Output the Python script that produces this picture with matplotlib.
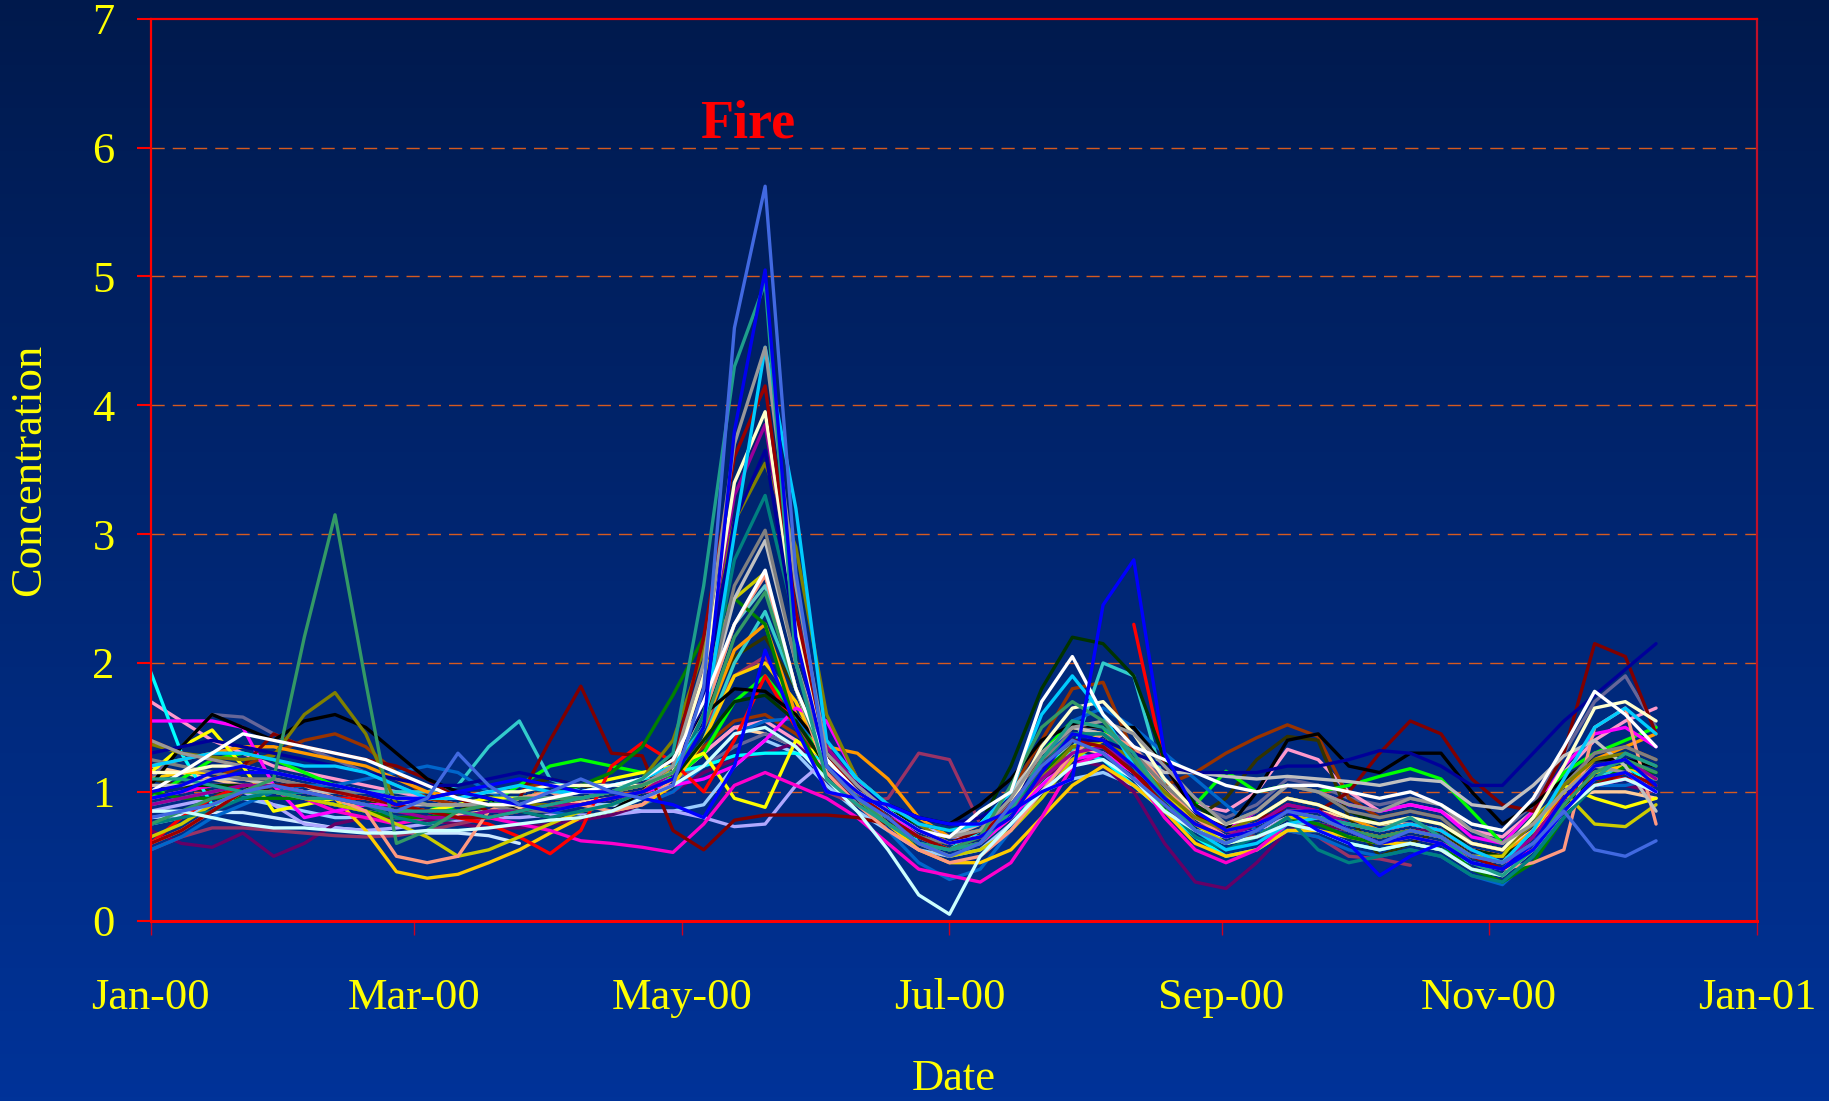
import numpy as np
import pandas as pd
import matplotlib
matplotlib.use("Agg")
import matplotlib.pyplot as plt
import matplotlib.dates as mdates

plt.rcParams["font.family"] = ["Liberation Serif", "DejaVu Serif"]

nan = np.nan

# weekly samples, 1 Jan 2000 .. 9 Dec 2000 (50 points)
dates = pd.date_range("2000-01-01", periods=50, freq="7D")

# one list per monitoring site
site_royalblue = [0.80, 0.85, 0.90, 1.00, 1.05, 1.00, 0.95, 0.90, 0.85, 0.95,
                  1.30, 1.05, 0.90, 1.00, 1.10, 1.00, 0.95, 1.05, 1.80, 4.60,
                  5.70, 2.70, 1.20, 0.95, 0.80, 0.60, 0.50, 0.60, 0.90, 1.20,
                  1.40, 1.30, 1.10, 0.90, 0.70, 0.60, 0.70, 0.85, 0.80, 0.70,
                  0.60, 0.70, 0.65, 0.50, 0.45, 0.60, 0.85, 0.55, 0.50, 0.62]
site_blue = [1.00, 1.05, 1.15, 1.20, 1.15, 1.10, 1.05, 1.00, 0.90, 0.95,
             1.00, 0.95, 0.90, 0.85, 0.90, 0.95, 1.00, 1.10, 1.50, 3.80,
             5.05, 2.20, 1.20, 1.00, 0.85, 0.70, 0.60, 0.65, 0.80, 1.15,
             1.45, 1.40, 1.20, 0.95, 0.75, 0.65, 0.70, 0.85, 0.85, 0.70,
             0.60, 0.65, 0.60, 0.45, 0.40, 0.60, 0.95, 1.20, 1.25, 1.05]
site_teal_green = [1.10, 1.10, 1.05, 1.00, 1.00, 0.95, 0.95, 0.90, 0.85, 0.85,
                   0.85, 0.80, 0.85, 0.90, 0.95, 1.00, 1.10, 1.30, 2.60, 4.30,
                   4.95, 2.00, 1.10, 0.90, 0.75, 0.60, 0.55, 0.60, 0.85, 1.25,
                   1.55, 1.50, 1.30, 0.95, 0.70, 0.60, 0.70, 0.85, 0.80, 0.75,
                   0.70, 0.80, 0.65, 0.45, 0.35, 0.55, 0.85, 1.10, 1.30, 1.20]
site_gray = [1.40, 1.30, 1.25, 1.20, 1.15, 1.10, 1.05, 1.00, 0.95, 0.90,
             0.90, 0.90, 0.95, 0.95, 0.95, 1.00, 1.05, 1.20, 2.00, 3.70,
             4.45, 2.60, 1.30, 1.05, 0.85, 0.70, 0.65, 0.70, 0.95, 1.30,
             1.50, 1.55, 1.45, 1.20, 0.95, 0.75, 0.85, 1.05, 1.00, 0.90,
             0.85, 0.95, 0.90, 0.70, 0.60, 0.75, 1.00, 1.20, 1.15, 1.00]
site_skyblue = [1.20, 1.25, 1.30, 1.30, 1.25, 1.20, 1.20, 1.15, 1.05, 0.95,
                0.95, 1.00, 1.05, 1.00, 1.00, 1.05, 1.10, 1.20, 1.50, 3.00,
                4.45, 3.20, 1.40, 1.10, 0.90, 0.75, 0.70, 0.75, 1.00, 1.60,
                1.90, 1.60, 1.20, 0.95, 0.70, 0.55, 0.60, 0.75, 0.80, 0.75,
                0.70, 0.75, 0.70, 0.55, 0.45, 0.70, 1.10, 1.50, 1.65, 1.45]
site_darkred = [0.60, 0.70, 0.85, 1.00, 1.05, 1.05, 1.00, 0.95, 0.90, 0.85,
                0.80, 0.80, 0.85, 0.90, 0.95, 1.00, 1.05, 1.20, 2.20, 3.60,
                4.15, 2.40, 1.30, 1.00, 0.80, 0.65, 0.55, 0.65, 0.90, 1.20,
                1.40, 1.35, 1.15, 0.90, 0.70, 0.60, 0.70, 0.85, 0.80, 0.70,
                0.65, 0.70, 0.65, 0.50, 0.40, 0.55, 0.85, 1.05, 1.15, 1.05]
site_cream = [1.15, 1.15, 1.20, 1.20, 1.15, 1.10, 1.05, 1.00, 0.95, 0.95,
              0.95, 1.00, 1.00, 1.05, 1.05, 1.05, 1.05, 1.15, 1.90, 3.40,
              3.95, 2.30, 1.25, 1.00, 0.85, 0.70, 0.60, 0.65, 0.90, 1.35,
              1.65, 1.70, 1.45, 1.10, 0.85, 0.75, 0.80, 0.95, 0.90, 0.80,
              0.75, 0.80, 0.75, 0.60, 0.55, 0.80, 1.20, 1.65, 1.70, 1.55]
site_purple = [0.90, 0.95, 1.00, 1.05, 1.05, 1.00, 0.95, 0.90, 0.85, 0.80,
               0.80, 0.85, 0.85, 0.90, 0.90, 0.95, 1.00, 1.15, 1.90, 3.30,
               3.85, 2.40, 1.35, 1.05, 0.85, 0.70, 0.60, 0.65, 0.85, 1.10,
               1.30, 1.35, 1.20, 0.95, 0.75, 0.65, 0.75, 0.90, 0.85, 0.75,
               0.70, 0.75, 0.70, 0.55, 0.45, 0.65, 0.95, 1.20, 1.25, 1.10]
site_navy = [1.30, 1.35, 1.40, 1.35, 1.30, 1.25, 1.20, 1.15, 1.10, 1.05,
             1.05, 1.10, 1.15, 1.10, 1.05, 1.05, 1.05, 1.15, 1.70, 3.10,
             3.65, 2.20, 1.30, 1.05, 0.90, 0.80, 0.75, 0.80, 0.95, 1.20,
             1.40, 1.40, 1.30, 1.20, 1.15, 1.15, 1.15, 1.20, 1.20, 1.25,
             1.32, 1.30, 1.20, 1.05, 1.05, 1.30, 1.55, 1.75, 1.95, 2.15]
site_olive = [1.37, 1.30, 1.27, 1.25, 1.28, 1.60, 1.77, 1.45, 0.90, 0.85,
              0.85, 0.90, 0.90, 0.90, 0.95, 1.00, 1.10, 1.40, 2.10, 3.10,
              3.55, 2.90, 1.60, 1.10, 0.90, 0.75, 0.60, 0.65, 0.85, 1.10,
              1.35, 1.40, 1.25, 1.00, 0.80, 0.70, 0.80, 0.95, 0.90, 0.80,
              0.75, 0.80, 0.75, 0.60, 0.55, 0.75, 1.05, 1.25, 1.30, 1.20]
site_teal = [0.75, 0.80, 0.85, 0.95, 1.00, 1.00, 0.95, 0.90, 0.80, 0.75,
             0.80, 0.85, 0.85, 0.80, 0.85, 0.90, 1.00, 1.10, 1.60, 2.80,
             3.30, 2.30, 1.30, 1.00, 0.80, 0.65, 0.55, 0.60, 0.85, 1.20,
             1.45, 1.45, 1.25, 0.90, 0.65, 0.55, 0.65, 0.80, 0.55, 0.45,
             0.50, 0.55, 0.50, 0.35, 0.30, 0.50, 0.80, 1.05, 1.15, 1.05]
site_midgray = [1.25, 1.20, 1.15, 1.10, 1.10, 1.05, 1.00, 1.00, 0.95, 0.90,
                0.90, 0.90, 0.85, 0.85, 0.90, 0.95, 1.00, 1.10, 1.60, 2.60,
                3.03, 2.00, 1.20, 0.95, 0.80, 0.65, 0.60, 0.65, 0.90, 1.25,
                1.45, 1.45, 1.30, 1.05, 0.85, 0.75, 0.85, 1.05, 1.00, 0.85,
                0.80, 0.85, 0.80, 0.60, 0.55, 0.75, 1.05, 1.30, 1.35, 1.25]
site_silver = [1.05, 1.05, 1.10, 1.10, 1.05, 1.00, 1.00, 0.95, 0.90, 0.90,
               0.90, 0.90, 0.95, 0.95, 1.00, 1.00, 1.05, 1.15, 1.60, 2.50,
               2.95, 2.00, 1.25, 1.00, 0.85, 0.70, 0.65, 0.75, 1.00, 1.30,
               1.50, 1.45, 1.30, 1.15, 1.15, 1.12, 1.10, 1.12, 1.10, 1.08,
               1.05, 1.10, 1.08, 0.90, 0.87, 1.05, 1.28, 1.40, 1.20, 0.85]
site_white = [1.00, 1.15, 1.30, 1.45, 1.40, 1.35, 1.30, 1.25, 1.15, 1.05,
              0.95, 0.90, 0.90, 0.95, 1.00, 1.05, 1.10, 1.25, 1.70, 2.30,
              2.72, 1.80, 1.25, 1.00, 0.85, 0.70, 0.65, 0.85, 1.00, 1.70,
              2.05, 1.60, 1.35, 1.25, 1.15, 1.05, 1.00, 1.05, 1.05, 1.00,
              0.95, 1.00, 0.90, 0.75, 0.70, 0.95, 1.35, 1.78, 1.60, 1.35]
site_salmon = [0.60, 0.70, 0.85, 1.00, 1.10, 1.05, 0.95, 0.85, 0.50, 0.45,
               0.50, 0.85, 0.95, 1.00, 0.90, 0.85, 0.90, 1.10, 1.60, 2.30,
               2.68, 1.80, 1.15, 0.90, 0.70, 0.55, 0.45, 0.50, 0.70, 1.00,
               1.30, 1.45, 1.35, 1.05, 0.80, 0.65, 0.70, 0.85, 0.85, 0.70,
               0.60, 0.65, 0.60, 0.45, 0.40, 0.45, 0.55, 1.50, 1.65, 0.75]
site_yellowgreen = [0.65, 0.75, 0.90, 1.00, 1.00, 0.95, 0.90, 0.85, 0.75, 0.65,
                    0.50, 0.55, 0.65, 0.75, 0.85, 0.90, 1.00, 1.20, 1.90, 2.50,
                    2.70, 1.80, 1.20, 0.95, 0.75, 0.60, 0.50, 0.55, 0.70, 0.95,
                    1.25, 1.40, 1.25, 1.00, 0.75, 0.60, 0.65, 0.80, 0.80, 0.70,
                    0.65, 0.70, 0.65, 0.50, 0.50, 0.80, 1.00, 0.75, 0.73, 0.90]
site_lightteal = [0.95, 1.00, 1.05, 1.05, 1.00, 0.95, 0.90, 0.90, 0.85, 0.85,
                  0.90, 0.95, 0.95, 0.95, 0.95, 1.00, 1.05, 1.15, 1.60, 2.30,
                  2.60, 1.80, 1.20, 0.95, 0.80, 0.65, 0.60, 0.65, 0.85, 1.15,
                  1.40, 1.35, 1.15, 0.90, 0.70, 0.60, 0.65, 0.75, 0.75, 0.70,
                  0.65, 0.70, 0.65, 0.50, 0.45, 0.65, 0.95, 1.15, 1.20, 1.10]
site_green = [1.00, 0.95, 0.95, 0.95, 0.95, 0.95, 0.90, 0.85, 0.80, 0.80,
              0.85, 0.90, 0.95, 1.00, 1.05, 1.15, 1.35, 1.75, 2.20, 2.50,
              2.30, 1.50, 1.10, 0.90, 0.75, 0.65, 0.60, 0.65, 0.85, 1.15,
              1.35, 1.35, 1.20, 0.95, 0.70, 0.60, 0.65, 0.80, 0.75, 0.65,
              0.60, 0.65, 0.60, 0.40, 0.30, 0.45, 0.80, 1.05, 1.20, 1.15]
site_orange = [1.20, 1.25, 1.30, 1.35, 1.35, 1.30, 1.25, 1.20, 1.10, 1.00,
               0.95, 0.90, 0.90, 0.90, 0.95, 1.00, 1.05, 1.15, 1.50, 2.10,
               2.30, 1.60, 1.35, 1.30, 1.10, 0.80, 0.65, 0.70, 0.95, 1.30,
               1.50, 1.45, 1.25, 1.00, 0.80, 0.70, 0.80, 0.95, 0.90, 0.80,
               0.70, 0.75, 0.70, 0.55, 0.50, 0.70, 1.00, 1.25, 1.35, 1.45]
site_darkolive = [1.10, 1.05, 1.00, 1.00, 1.05, 1.05, 1.00, 0.95, 0.85, 0.80,
                  0.85, 0.95, 1.05, 1.10, 1.05, 1.00, 1.05, 1.20, 1.60, 2.05,
                  2.20, 1.80, 1.30, 1.00, 0.80, 0.65, 0.60, 0.65, 0.85, 1.15,
                  1.35, 1.35, 1.15, 0.90, 0.80, 0.95, 1.25, 1.43, 1.40, 0.80,
                  0.50, 0.60, 0.70, 0.50, 0.45, 0.65, 0.95, 1.15, 1.20, 1.15]
site_blue2 = [0.95, 1.00, 1.10, 1.15, 1.15, 1.10, 1.05, 1.00, 0.95, 0.95,
              1.00, 1.05, 1.10, 1.05, 1.00, 1.00, 0.95, 0.90, 0.80, 1.20,
              2.10, 1.50, 1.00, 0.95, 0.90, 0.80, 0.75, 0.75, 0.85, 1.00,
              1.10, 2.45, 2.80, 1.30, 0.85, 0.70, 0.75, 0.85, 0.70, 0.60,
              0.35, 0.50, 0.60, 0.45, 0.40, 0.55, 0.85, 1.10, 1.15, 1.00]
site_plum = [0.55, 0.65, 0.72, 0.72, 0.70, 0.68, 0.66, 0.65, 0.66, 0.70,
             0.75, 0.80, 0.85, 0.90, 0.95, 1.00, 1.05, 1.15, 1.50, 1.90,
             2.05, 1.60, 1.00, 0.90, 0.95, 1.30, 1.25, 0.75, 0.85, 1.10,
             1.30, 1.35, 1.20, 1.00, 0.75, 0.70, 0.65, 0.70, 0.65, 0.50,
             0.48, 0.43, nan, nan, nan, nan, nan, nan, nan, nan]
site_black = [1.05, 1.35, 1.60, 1.50, 1.40, 1.55, 1.60, 1.50, 1.30, 1.10,
              1.00, 0.95, 0.85, 0.80, 0.80, 0.85, 1.00, 1.30, 1.60, 1.80,
              1.78, 1.60, 1.30, 1.05, 0.90, 0.80, 0.75, 0.90, 1.10, 1.40,
              1.52, 1.50, 1.50, 1.20, 0.85, 0.70, 1.00, 1.40, 1.45, 1.20,
              1.15, 1.30, 1.30, 1.00, 0.75, 0.90, 1.10, 1.25, 1.25, 1.20]
site_darkgreen = [1.00, 1.05, 1.05, 1.05, 1.00, 0.95, 0.95, 0.90, 0.85, 0.85,
                  0.85, 0.90, 0.90, 0.90, 0.90, 0.95, 1.00, 1.10, 1.40, 1.70,
                  1.75, 1.55, 1.20, 1.00, 0.85, 0.75, 0.70, 0.75, 1.20, 1.80,
                  2.20, 2.15, 1.90, 1.25, 0.90, 0.75, 0.85, 1.05, 1.00, 0.85,
                  0.75, 0.80, 0.75, 0.55, 0.50, 0.65, 0.90, 1.10, 1.15, 1.05]
site_palecyan = [0.85, 0.85, 0.80, 0.75, 0.72, 0.72, 0.70, 0.68, 0.68, 0.70,
                 0.70, 0.72, 0.75, 0.78, 0.80, 0.85, 0.95, 1.05, 1.20, 1.45,
                 1.50, 1.35, 1.10, 0.85, 0.55, 0.20, 0.05, 0.50, 0.75, 1.00,
                 1.20, 1.25, 1.10, 0.85, 0.70, 0.60, 0.65, 0.75, 0.70, 0.60,
                 0.55, 0.60, 0.55, 0.40, 0.35, 0.55, 0.85, 1.05, 1.10, 1.00]
site_cyan = [1.93, 1.30, 0.90, 0.95, 1.00, 1.00, 0.95, 0.90, 0.85, 0.85,
             0.90, 0.95, 0.95, 1.00, 1.00, 1.05, 1.10, 1.15, 1.20, 1.28,
             1.30, 1.30, 1.25, 1.10, 0.90, 0.60, 0.55, 0.70, 1.00, 1.25,
             1.30, 1.25, 1.05, 0.85, 0.65, 0.50, 0.55, 0.70, 0.70, 0.60,
             0.55, 0.60, 0.55, 0.45, 0.40, 0.60, 0.90, 1.10, 1.20, 1.05]
site_turquoise = [0.90, 0.95, 1.00, 1.05, 1.05, 1.00, 1.00, 1.00, 1.00, 1.00,
                  1.05, 1.35, 1.55, 1.10, 1.00, 1.00, 1.05, 1.10, 1.40, 2.00,
                  2.40, 1.80, 1.20, 0.95, 0.80, 0.65, 0.60, 0.65, 0.80, 1.00,
                  1.30, 2.00, 1.90, 1.05, 0.85, 0.70, 0.75, 0.85, 0.80, 0.70,
                  0.65, 0.70, 0.65, 0.50, 0.45, 0.60, 0.90, 1.10, 1.20, 1.10]
site_maroon = [1.40, 1.30, 1.25, 1.20, 1.45, 1.35, 1.30, 1.25, 1.20, 1.10,
               0.95, 0.85, 0.95, 1.40, 1.82, 1.30, 1.28, 0.70, 0.55, 0.78,
               0.82, 0.82, 0.82, 0.80, 0.75, 0.65, 0.60, 0.70, 0.95, 1.25,
               1.40, 1.35, 1.15, 0.95, 0.80, 0.75, 0.80, 0.85, 0.85, 1.00,
               1.30, 1.55, 1.45, 1.10, 0.90, 0.85, 1.30, 2.15, 2.05, 1.45]
site_red = [0.60, 0.80, 0.95, 1.05, 1.05, 1.00, 0.95, 0.95, 0.90, 0.85,
            0.80, 0.75, 0.65, 0.52, 0.70, 1.20, 1.38, 1.23, 1.00, 1.40,
            1.90, 1.50, 1.10, 0.90, 0.75, 0.65, 0.60, 0.65, 0.85, 1.15,
            1.35, nan, 2.30, 1.20, 0.85, 0.70, 0.75, 0.90, 0.85, 0.75,
            0.70, 0.75, 0.70, 0.55, 0.50, 0.65, 0.95, 1.10, 1.10, 1.05]
site_magenta = [1.55, 1.55, 1.55, 1.50, 1.05, 0.80, 0.85, 0.90, 0.90, 0.85,
                0.80, 0.80, 0.85, 0.90, 0.90, 0.95, 1.00, 1.05, 1.10, 1.20,
                1.40, 1.65, 1.55, 1.10, 0.85, 0.65, 0.55, 0.60, 0.80, 1.05,
                1.25, 1.30, 1.15, 0.95, 0.80, 0.70, 0.85, 1.05, 1.00, 0.90,
                0.85, 0.90, 0.85, 0.65, 0.60, 0.85, 1.20, 1.45, 1.50, 1.35]
site_pinkmagenta = [0.95, 1.00, 1.05, 1.05, 1.00, 0.95, 0.85, 0.80, 0.75, 0.80,
                    0.85, 0.80, 0.75, 0.70, 0.62, 0.60, 0.57, 0.53, 0.75, 1.05,
                    1.15, 1.05, 0.95, 0.80, 0.60, 0.40, 0.35, 0.30, 0.45, 0.80,
                    1.20, 1.30, 1.15, 0.80, 0.55, 0.45, 0.55, 0.75, 0.80, 0.70,
                    0.60, 0.65, 0.60, 0.50, 0.45, 0.55, 0.85, 1.05, 1.10, 1.00]
site_yellow = [1.15, 1.35, 1.48, 1.20, 0.85, 0.90, 0.95, 0.90, 0.85, 0.85,
               0.90, 0.95, 0.95, 1.00, 1.05, 1.10, 1.15, 1.20, 1.30, 0.95,
               0.88, 1.40, 1.25, 1.00, 0.80, 0.65, 0.55, 0.60, 0.80, 1.10,
               1.35, 1.45, 1.25, 1.00, 0.75, 0.60, 0.70, 0.85, 0.80, 0.70,
               0.65, 0.70, 0.65, 0.50, 0.45, 0.70, 1.05, 0.95, 0.88, 0.95]
site_gold = [1.10, 1.15, 1.15, 1.10, 1.05, 1.00, 0.95, 0.70, 0.38, 0.33,
             0.36, 0.45, 0.55, 0.68, 0.80, 0.85, 0.90, 1.05, 1.40, 1.90,
             2.00, 1.70, 1.20, 0.95, 0.75, 0.55, 0.45, 0.45, 0.55, 0.80,
             1.05, 1.20, 1.05, 0.85, 0.60, 0.50, 0.55, 0.70, 0.70, 0.65,
             0.60, 0.60, 0.55, 0.40, 0.35, 0.55, 0.85, 1.15, 1.20, 1.10]
site_darkpurple = [0.70, 0.60, 0.57, 0.68, 0.50, 0.60, 0.75, 0.80, 0.80, 0.78,
                   0.75, 0.72, 0.72, 0.75, 0.78, 0.82, 0.90, 1.00, 1.15, 1.25,
                   1.30, 1.38, 1.15, 0.95, 0.80, 0.70, 0.65, 0.70, 0.85, 1.10,
                   1.25, 1.20, 1.00, 0.60, 0.30, 0.25, 0.45, 0.70, 0.75, 0.70,
                   0.65, 0.70, 0.70, 0.60, 0.55, 0.75, 0.95, 1.05, 1.05, 1.00]
site_slate = [1.10, 1.35, 1.60, 1.58, 1.45, 1.35, 1.25, 1.15, 1.05, 0.95,
              0.90, 0.90, 0.95, 1.00, 1.05, 1.05, 1.05, 1.10, 1.20, 1.35,
              1.45, 1.35, 1.15, 0.95, 0.80, 0.70, 0.65, 0.70, 0.90, 1.20,
              1.50, 1.50, 1.35, 1.10, 0.90, 0.80, 0.90, 1.10, 1.05, 0.95,
              0.90, 0.95, 0.90, 0.75, 0.70, 0.90, 1.30, 1.70, 1.90, 1.50]
site_pink = [1.70, 1.55, 1.40, 1.30, 1.20, 1.15, 1.10, 1.05, 1.00, 0.95,
             0.90, 0.90, 0.95, 1.00, 1.00, 1.00, 1.05, 1.10, 1.30, 1.50,
             1.55, 1.40, 1.20, 0.95, 0.80, 0.65, 0.60, 0.65, 0.85, 1.15,
             1.35, 1.40, 1.25, 1.05, 0.90, 0.85, 1.00, 1.33, 1.25, 1.00,
             0.85, 0.90, 0.85, 0.70, 0.65, 0.85, 1.15, 1.40, 1.55, 1.65]
site_brown = [1.00, 1.05, 1.10, 1.20, 1.30, 1.40, 1.45, 1.35, 1.15, 0.95,
              0.90, 0.95, 1.05, 1.05, 1.00, 1.00, 1.05, 1.15, 1.35, 1.55,
              1.60, 1.45, 1.25, 1.00, 0.85, 0.70, 0.65, 0.75, 1.00, 1.40,
              1.80, 1.85, 1.30, 1.05, 1.15, 1.30, 1.42, 1.52, 1.43, 0.95,
              0.80, 0.85, 0.80, 0.60, 0.55, 0.75, 1.05, 1.30, 1.35, 1.25]
site_lime = [0.95, 1.10, 1.25, 1.30, 1.25, 1.15, 1.05, 1.00, 0.95, 0.90,
             0.85, 0.90, 1.05, 1.20, 1.25, 1.20, 1.15, 1.10, 1.30, 1.70,
             1.90, 1.60, 1.25, 1.00, 0.85, 0.75, 0.70, 0.75, 0.95, 1.30,
             1.55, 1.50, 1.20, 0.85, 0.90, 1.16, 1.00, 1.05, 1.00, 1.05,
             1.12, 1.18, 1.10, 0.85, 0.60, 0.85, 1.15, 1.30, 1.40, 1.50]
site_iceblue = [0.80, 0.82, 0.84, 0.84, 0.80, 0.76, 0.72, 0.70, 0.68, 0.68,
                0.68, 0.66, 0.60, nan, nan, nan, nan, nan, nan, nan,
                nan, nan, nan, nan, nan, nan, nan, nan, nan, nan,
                nan, nan, nan, nan, nan, nan, nan, nan, nan, nan,
                nan, nan, nan, nan, nan, nan, nan, nan, nan, nan]
site_steelblue = [0.55, 0.65, 0.80, 0.90, 1.00, 1.05, 1.05, 1.10, 1.15, 1.20,
                  1.15, 1.00, 0.90, 0.85, 0.80, 0.85, 0.90, 1.00, 1.20, 1.45,
                  1.55, 1.57, 1.30, 1.00, 0.70, 0.45, 0.32, 0.40, 0.70, 1.20,
                  1.55, 1.65, 1.50, 1.30, 1.10, 0.90, 0.70, 0.70, 0.65, 0.55,
                  0.50, 0.55, 0.50, 0.35, 0.28, 0.50, 0.85, 1.05, 1.05, 1.10]
site_lavender = [0.85, 0.90, 0.95, 1.00, 0.90, 0.75, 0.72, 0.70, 0.72, 0.75,
                 0.78, 0.80, 0.80, 0.82, 0.82, 0.82, 0.85, 0.85, 0.80, 0.73,
                 0.75, 1.05, 1.25, 1.10, 0.90, 0.75, 0.65, 0.65, 0.80, 1.05,
                 1.30, 1.40, 1.30, 1.05, 0.80, 0.65, 0.70, 0.80, 0.80, 0.75,
                 0.70, 0.75, 0.70, 0.55, 0.50, 0.65, 0.95, 1.10, 1.15, 1.05]
site_lightblue = [0.75, 0.80, 0.90, 0.95, 0.90, 0.85, 0.80, 0.80, 0.80, 0.80,
                  0.80, 0.85, 0.90, 0.90, 0.90, 0.90, 0.85, 0.85, 0.90, 1.20,
                  1.40, 1.30, 1.05, 0.85, 0.70, 0.55, 0.50, 0.55, 0.75, 1.00,
                  1.10, 1.15, 1.05, 0.85, 0.70, 0.65, 0.70, 0.80, 0.80, 0.75,
                  0.70, 0.75, 0.70, 0.55, 0.50, 0.65, 0.95, 1.15, 1.20, 1.10]
site_peach = [1.20, 1.15, 1.10, 1.05, 1.00, 0.95, 0.90, 0.85, 0.80, 0.80,
              0.82, 0.85, 0.88, 0.90, 0.92, 0.95, 1.00, 1.10, 1.30, 1.50,
              1.45, 1.35, 1.20, 1.00, 0.80, 0.65, 0.60, 0.65, 0.85, 1.15,
              1.35, 1.30, 1.15, 0.95, 0.80, 0.70, 0.75, 0.85, 0.85, 0.80,
              0.75, 0.75, 0.70, 0.60, 0.55, 0.70, 0.95, 1.00, 1.00, 0.95]
site_seagreen = [0.75, 0.85, 0.95, 1.00, 1.10, 2.20, 3.15, 1.85, 0.60, 0.70,
                 0.85, 0.90, 0.95, 0.95, 0.95, 1.00, 1.05, 1.15, 1.50, 2.20,
                 2.55, 1.80, 1.20, 0.95, 0.75, 0.60, 0.55, 0.65, 1.05, 1.50,
                 1.70, 1.55, 1.25, 0.95, 0.70, 0.60, 0.70, 0.85, 0.80, 0.70,
                 0.65, 0.70, 0.65, 0.50, 0.45, 0.60, 0.90, 1.15, 1.25, 1.15]

sites = [
    (site_iceblue, "#CCE8FF"), (site_peach, "#FFCC99"), (site_lightblue, "#99CCFF"),
    (site_lavender, "#B0A8FF"), (site_lightteal, "#66CCCC"), (site_slate, "#666699"),
    (site_darkpurple, "#660066"), (site_plum, "#993366"), (site_pink, "#FF99CC"),
    (site_brown, "#993300"), (site_darkolive, "#333300"), (site_lime, "#00FF00"),
    (site_cyan, "#00FFFF"), (site_turquoise, "#33CCCC"), (site_steelblue, "#0066CC"),
    (site_gold, "#FFCC00"), (site_orange, "#FF9900"), (site_yellow, "#FFFF00"),
    (site_pinkmagenta, "#FF00CC"), (site_magenta, "#FF00FF"), (site_red, "#FF0000"),
    (site_maroon, "#800000"), (site_darkgreen, "#003300"), (site_black, "#000000"),
    (site_green, "#008000"), (site_yellowgreen, "#CCCC00"), (site_salmon, "#FF9980"),
    (site_silver, "#C0C0C0"), (site_midgray, "#808080"), (site_teal, "#008080"),
    (site_olive, "#808000"), (site_navy, "#000099"), (site_purple, "#990099"),
    (site_cream, "#FFFFCC"), (site_darkred, "#990000"), (site_skyblue, "#00CCFF"),
    (site_gray, "#999999"), (site_seagreen, "#339966"), (site_white, "#FFFFFF"),
    (site_palecyan, "#CCFFFF"), (site_teal_green, "#1E9E8C"), (site_blue2, "#0000FF"),
    (site_blue, "#0000EE"), (site_royalblue, "#4169E1"),
]

W, H = 1829, 1101
fig = plt.figure(figsize=(W / 100, H / 100), dpi=100)

# background gradient, dark navy at the top to royal blue at the bottom
bg = fig.add_axes([0, 0, 1, 1])
top = np.array([0.0, 0.10, 0.30])
bottom = np.array([0.0, 0.20, 0.60])
t = np.linspace(0, 1, 256)[:, None, None]
grad = top * (1 - t) + bottom * t
bg.imshow(grad, aspect="auto", extent=[0, 1, 0, 1])
bg.set_axis_off()

left, right, ytop, ybot = 150.7, 1757, 18.7, 920.7
ax = fig.add_axes([left / W, 1 - ybot / H, (right - left) / W, (ybot - ytop) / H])
ax.patch.set_alpha(0)

for yv in range(1, 7):
    ax.axhline(yv, color="#D55A20", lw=1.0, dashes=(9.5, 5.8), zorder=1)

for vals, col in sites:
    ax.plot(dates, vals, color=col, lw=2.4, zorder=2,
            solid_joinstyle="round", solid_capstyle="round")

ax.set_xlim(pd.Timestamp("2000-01-01"), pd.Timestamp("2001-01-01"))
ax.set_ylim(0, 7)
ax.set_yticks(range(0, 8))
ax.xaxis.set_major_locator(mdates.MonthLocator(bymonth=[1, 3, 5, 7, 9, 11]))
ax.xaxis.set_major_formatter(mdates.DateFormatter("%b-%y"))

ax.tick_params(axis="x", direction="out", length=10, width=1.0, color="#CC0022",
               pad=31, labelsize=32, labelcolor="#FFFF00")
ax.tick_params(axis="y", direction="out", length=10, width=1.5, color="#FF0000",
               pad=16, labelsize=32, labelcolor="#FFFF00")

for side in ["left", "top", "bottom"]:
    ax.spines[side].set_color("#FF0000")
    ax.spines[side].set_linewidth(1.6)
ax.spines["bottom"].set_linewidth(2.2)
ax.spines["right"].set_color("#C0102A")
ax.spines["right"].set_linewidth(1.6)

ax.text(pd.Timestamp("2000-05-16"), 6.08, "Fire", color="#FF0000", fontsize=39,
        fontweight="bold", ha="center", va="baseline")

fig.text(954 / W, 1 - 1079 / H, "Date", color="#FFFF00", fontsize=32,
         ha="center", va="center")
fig.text(29 / W, 1 - 470 / H, "Concentration", color="#FFFF00", fontsize=32,
         rotation=90, ha="center", va="center")

fig.savefig("out.png", dpi=100)
